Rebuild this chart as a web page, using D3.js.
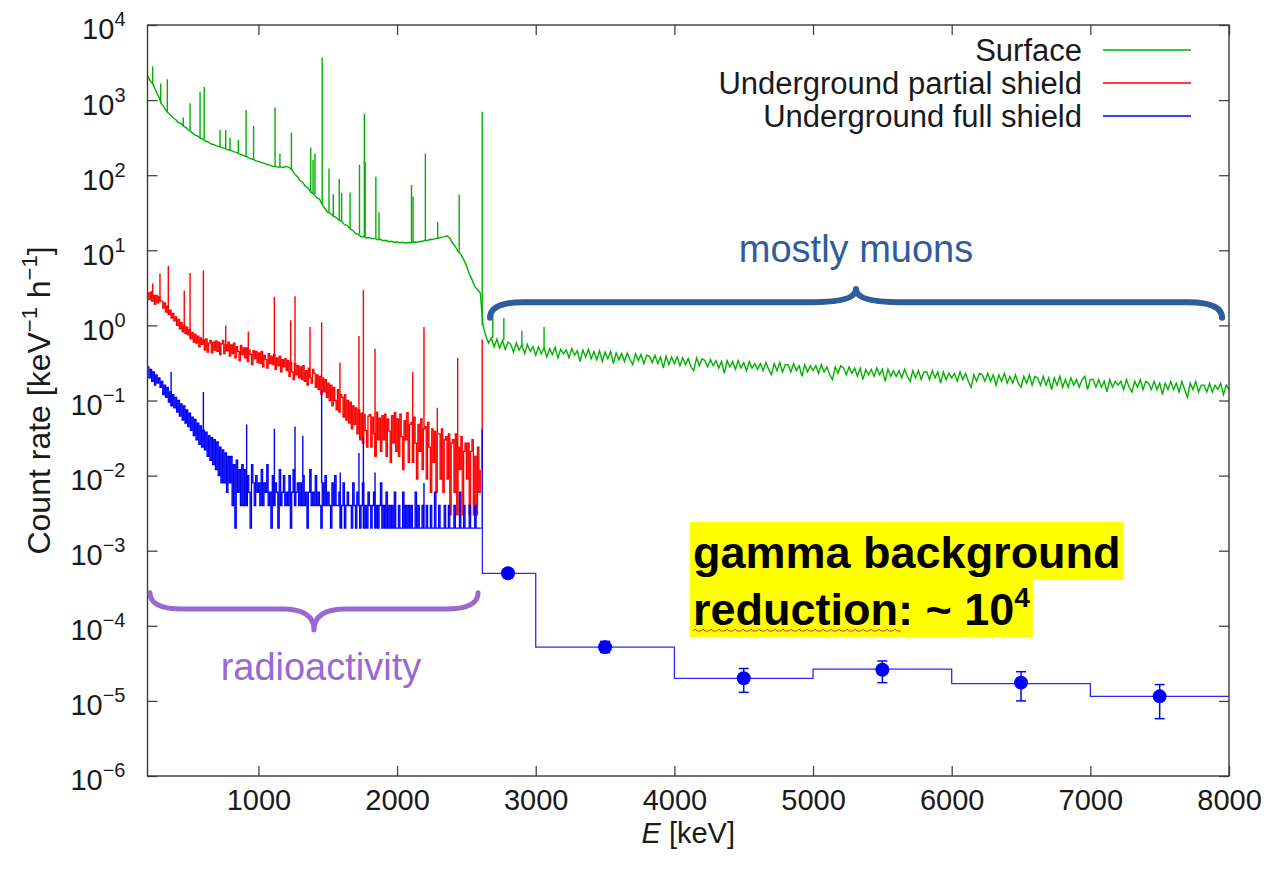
<!DOCTYPE html>
<html><head><meta charset="utf-8">
<script src="https://cdn.jsdelivr.net/npm/d3@7"></script>
<style>body{margin:0;background:#fff}</style>
</head><body><svg id="c" width="1272" height="875"></svg>
<script>
// ---------- data ----------
const xTicks=[1000,2000,3000,4000,5000,6000,7000,8000];
const yTicks=[1e4,1e3,1e2,1e1,1e0,1e-1,1e-2,1e-3,1e-4,1e-5,1e-6];
const yTickExp=["4","3","2","1","0","\u22121","\u22122","\u22123","\u22124","\u22125","\u22126"];
const seriesNames=["Surface","Underground partial shield","Underground full shield"];

// Surface spectrum, continuum below the 2614 keV line (200..2600 keV, 20 keV bins)
const greenLowStart=200, greenLowStep=20;
const greenLow=[
2100,1800,1620,1330,1120,900,800,700,650,590,
555,510,490,450,428,395,372,345,333,312,
302,283,275,260,255,244,241,231,228,218,
215,206,201,192,188,179,175,166,163,155,
153,147,145,139,137,131,131,128,129,127,
131,127,119,104,96,85,80,71,67,59,
56,50,48,41,36,32,31,28.5,27.5,25,
24.5,22,21.5,19.2,18.5,16.8,16.3,15.1,15.2,14.6,
14.8,14.2,14.4,13.8,14.0,13.4,13.6,13.0,13.2,12.8,
12.9,12.6,12.8,12.4,12.7,12.6,12.9,12.8,13.1,13.1,
13.5,13.5,14.0,13.9,14.4,14.4,15.0,15.1,15.6,14.6,
12.5,11.2,9.7,8.9,7.5,6.3,4.9,4.1,3.3,3.0,
2.7];
// Surface spectrum above 2614 keV (2620..8000 keV, 20 keV bins)
const greenHighStart=2620, greenHighStep=20;
const greenHigh=[
1.0,0.72,0.58,0.68,0.52,0.66,0.50,0.63,0.48,0.60,
0.56,0.44,0.58,0.47,0.55,0.42,0.56,0.45,0.52,0.40,
0.52,0.42,0.50,0.38,0.49,0.41,0.51,0.37,0.48,0.42,
0.47,0.37,0.49,0.40,0.46,0.33,0.47,0.38,0.48,0.36,
0.45,0.35,0.46,0.33,0.44,0.36,0.45,0.31,0.43,0.35,
0.42,0.33,0.43,0.35,0.30,0.42,0.34,0.41,0.31,0.40,
0.39,0.32,0.40,0.31,0.38,0.27,0.39,0.30,0.38,0.31,
0.38,0.29,0.37,0.30,0.36,0.28,0.25,0.37,0.29,0.36,
0.34,0.28,0.35,0.29,0.34,0.27,0.33,0.23,0.34,0.28,
0.33,0.26,0.34,0.27,0.32,0.25,0.33,0.27,0.31,0.26,
0.31,0.25,0.32,0.26,0.22,0.31,0.25,0.32,0.24,0.30,
0.30,0.24,0.31,0.25,0.29,0.21,0.30,0.24,0.29,0.25,
0.29,0.23,0.30,0.24,0.28,0.22,0.19,0.28,0.23,0.29,
0.27,0.22,0.28,0.23,0.27,0.21,0.27,0.19,0.26,0.22,
0.26,0.21,0.27,0.22,0.26,0.18,0.26,0.21,0.25,0.21,
0.25,0.20,0.26,0.21,0.18,0.25,0.20,0.25,0.19,0.24,
0.24,0.19,0.25,0.20,0.24,0.17,0.24,0.19,0.23,0.20,
0.23,0.18,0.24,0.19,0.23,0.18,0.15,0.22,0.18,0.23,
0.22,0.18,0.23,0.18,0.22,0.16,0.22,0.18,0.23,0.17,
0.21,0.17,0.22,0.17,0.15,0.21,0.17,0.22,0.16,0.21,
0.20,0.16,0.21,0.16,0.20,0.14,0.20,0.16,0.21,0.15,
0.19,0.15,0.20,0.16,0.19,0.15,0.19,0.21,0.14,0.19,
0.19,0.15,0.19,0.15,0.18,0.13,0.19,0.15,0.18,0.16,
0.18,0.14,0.19,0.15,0.13,0.18,0.15,0.19,0.14,0.18,
0.17,0.14,0.18,0.14,0.17,0.12,0.17,0.14,0.18,0.14,
0.17,0.13,0.18,0.14,0.11,0.17,0.14,0.18,0.13,0.16,
0.16,0.13,0.17,0.13,0.16,0.14,0.17,0.12,0.16,0.14];
const greenPeaks=[[237,2800],[295,1660],[343,1900],[458,590],[507,910],[579,1290],[609,1510],
[723,400],[764,400],[795,316],[855,295],[911,740],[965,457],[1120,800],[1155,195],[1238,370],
[1377,234],[1394,160],[1408,195],[1460,3700],[1509,123],[1540,56],[1583,89],[1600,58],[1661,59],
[1729,138],[1764,660],[1770,150],[1847,95],[1870,32],[2104,74],[2115,52],[2204,195],[2293,24],
[2448,55],[2614,700],[2690,1.4],[2770,1.25],[2900,0.85],[3060,0.95]];

// Underground, partial shield (200..2600 keV, 10 keV bins)
const redStart=200, redStep=10;
const red=[
2.7,2.2,2.8,2.1,2.5,1.9,2.5,2.0,2.4,2.1,
2.1,1.7,2.0,1.5,1.8,1.4,1.6,1.25,1.45,1.15,
1.3,1.0,1.2,0.9,1.1,0.82,1.0,0.78,0.95,0.75,
0.88,0.66,0.8,0.6,0.76,0.58,0.72,0.52,0.68,0.56,
0.64,0.47,0.66,0.44,0.58,0.63,0.43,0.6,0.47,0.62,
0.45,0.6,0.41,0.57,0.63,0.42,0.55,0.46,0.6,0.39,
0.55,0.42,0.58,0.37,0.52,0.45,0.34,0.54,0.41,0.5,
0.37,0.5,0.33,0.47,0.41,0.3,0.46,0.36,0.45,0.32,
0.43,0.31,0.45,0.28,0.4,0.35,0.27,0.42,0.31,0.39,
0.3,0.41,0.26,0.37,0.29,0.39,0.24,0.35,0.28,0.36,
0.25,0.34,0.21,0.32,0.24,0.19,0.31,0.22,0.29,0.2,
0.28,0.19,0.29,0.18,0.25,0.16,0.27,0.2,0.17,0.26,
0.23,0.15,0.22,0.14,0.21,0.12,0.2,0.13,0.19,0.11,
0.17,0.1,0.16,0.085,0.15,0.1,0.075,0.14,0.07,0.12,
0.11,0.06,0.12,0.055,0.1,0.05,0.095,0.042,0.085,0.048,
0.08,0.036,0.075,0.03,0.068,0.027,0.065,0.04,0.024,0.062,
0.065,0.024,0.06,0.036,0.018,0.07,0.03,0.058,0.021,0.063,
0.03,0.066,0.018,0.057,0.039,0.015,0.063,0.027,0.069,0.021,
0.057,0.018,0.066,0.033,0.012,0.054,0.03,0.069,0.015,0.048,
0.051,0.015,0.06,0.027,0.009,0.048,0.021,0.057,0.012,0.042,
0.045,0.009,0.051,0.024,0.006,0.042,0.015,0.039,0.006,0.036,
0.036,0.009,0.042,0.006,0.03,0.033,0.009,0.036,0.003,0.027,
0.03,0.006,0.036,0.003,0.024,0.012,0.033,0.003,0.021,0.027,
0.009,0.027,0.003,0.021,0.03,0.003,0.018,0.003,0.024,0.006,
0.012];
const redPeaks=[[237,3.6],[290,4.9],[350,6.2],[465,2.9],[507,5.0],[603,5.4],[764,1.0],[927,0.83],
[1115,2.4],[1233,1.17],[1264,2.45],[1372,0.95],[1456,1.1],[1588,0.32],[1725,0.72],[1757,2.95],
[1841,0.49],[2113,0.24],[2194,0.95],[2290,0.08],[2437,0.37],[2614,0.65]];

// Underground, full shield (200..2600 keV, 10 keV bins)
const blueStart=200, blueStep=10;
const blue=[
0.28,0.2,0.26,0.18,0.24,0.16,0.22,0.17,0.2,0.15,
0.18,0.12,0.16,0.11,0.15,0.095,0.13,0.085,0.12,0.08,
0.11,0.07,0.1,0.062,0.09,0.055,0.085,0.05,0.075,0.045,
0.068,0.04,0.06,0.034,0.056,0.03,0.05,0.026,0.046,0.024,
0.04,0.022,0.038,0.018,0.034,0.016,0.032,0.014,0.03,0.012,
0.028,0.01,0.024,0.008,0.022,0.008,0.02,0.006,0.018,0.008,
0.018,0.004,0.014,0.002,0.016,0.006,0.012,0.004,0.014,0.004,
0.012,0.004,0.01,0.006,0.002,0.014,0.008,0.004,0.01,0.006,
0.008,0.004,0.012,0.004,0.008,0.006,0.014,0.004,0.006,0.002,
0.01,0.004,0.008,0.006,0.002,0.012,0.004,0.006,0.01,0.004,
0.006,0.004,0.01,0.002,0.006,0.012,0.004,0.006,0.008,0.004,
0.008,0.004,0.01,0.004,0.006,0.002,0.006,0.012,0.004,0.006,
0.004,0.01,0.004,0.006,0.004,0.002,0.008,0.004,0.01,0.004,
0.006,0.004,0.002,0.008,0.004,0.01,0.004,0.004,0.006,0.002,
0.004,0.008,0.002,0.004,0.006,0.004,0.004,0.002,0.008,0.004,
0.002,0.006,0.004,0.002,0.004,0.008,0.002,0.004,0.002,0.006,
0.004,0.002,0.004,0.006,0.002,0.004,0.002,0.004,0.008,0.002,
0.004,0.002,0.006,0.002,0.004,0.002,0.004,0.002,0.006,0.002,
0.002,0.004,0.002,0.002,0.006,0.002,0.004,0.002,0.004,0.002,
0.004,0.002,0.002,0.006,0.002,0.004,0.002,0.002,0.004,0.002,
0.002,0.004,0.002,0.002,0.004,0.002,0.002,0.006,0.002,0.002,
0.004,0.002,0.002,0.002,0.004,0.002,0.002,0.004,0.002,0.002,
0.002,0.004,0.002,0.002,0.002,0.006,0.002,0.002,0.004,0.002,
0.002,0.002,0.004,0.002,0.002,0.002,0.004,0.002,0.002,0.002,
0.002];
const bluePeaks=[[370,0.24],[603,0.13],[915,0.048],[1115,0.042],[1264,0.045],[1320,0.034],[1456,0.14],
[1590,0.011],[1725,0.02],[1757,0.032],[1841,0.011],[2194,0.008],[2614,0.041]];

// full shield, high-energy histogram and measured points
const histEdges=[2615,3000,4000,5000,6000,7000,8000];
const histValues=[5e-4,5.2e-5,2e-5,2.65e-5,1.7e-5,1.15e-5];
const pointE=[2800,3500,4500,5500,6500,7500];
const pointV=[5e-4,5.2e-5,2e-5,2.6e-5,1.75e-5,1.15e-5];
const pointLo=[4.7e-4,4.4e-5,1.3e-5,1.75e-5,1.0e-5,5.8e-6];
const pointHi=[5.3e-4,6.2e-5,2.7e-5,3.4e-5,2.45e-5,1.65e-5];

// annotations (data coordinates)
const muonBrace={e0:2670,e1:7950,em:5310,vEnd:1.26,vH:2.04,vTip:3.05};
const radioBrace={e0:218,e1:2584,em:1401,vEnd:2.75e-4,vH:1.67e-4,vTip:8.8e-5};
const muonLabel={e:5310,v:7.0,text:"mostly muons"};
const radioLabel={e:1451,v:1.9e-5,text:"radioactivity"};

// ---------- drawing ----------
const FONT='"Liberation Sans", Arial, Helvetica, sans-serif';
const COLORS=["#00b000","#ff0000","#0000ff"];
const M={left:147.5,right:1229,top:25,bottom:776};
const x=d3.scaleLinear().domain([200,8000]).range([M.left,M.right]);
const y=d3.scaleLog().domain([1e-6,1e4]).range([M.bottom,M.top]);
const svg=d3.select("#c").attr("font-family",FONT);

svg.append("defs").append("clipPath").attr("id","clip").append("rect")
  .attr("x",M.left).attr("y",M.top).attr("width",M.right-M.left).attr("height",M.bottom-M.top);

function grid(start,step,arr){return arr.map((v,i)=>({E:start+i*step,v}));}
const greenPts=grid(greenLowStart,greenLowStep,greenLow).concat(grid(greenHighStart,greenHighStep,greenHigh));
const redPts=grid(redStart,redStep,red);
const bluePts=grid(blueStart,blueStep,blue);

const plot=svg.append("g").attr("clip-path","url(#clip)");
const lineLin=d3.line().x(d=>x(d.E)).y(d=>y(d.v));
const lineStep=d3.line().x(d=>x(d.E)).y(d=>y(d.v)).curve(d3.curveStepAfter);

function nearest(pts,E){
  let best=pts[0];
  for(const p of pts){ if(Math.abs(p.E-E)<Math.abs(best.E-E)) best=p; }
  return best;
}
function drawSeries(pts,peaks,color,gen,sw){
  const g=plot.append("g");
  g.append("path").datum(pts).attr("d",gen).attr("fill","none").attr("stroke",color).attr("stroke-width",sw);
  g.selectAll("line.pk").data(peaks).join("line").attr("class","pk")
    .attr("x1",d=>x(d[0])).attr("x2",d=>x(d[0]))
    .attr("y1",d=>y(nearest(pts,d[0]).v)).attr("y2",d=>y(d[1]))
    .attr("stroke",color).attr("stroke-width",1.4);
  return g;
}
drawSeries(greenPts,greenPeaks,COLORS[0],lineLin,1.4);
drawSeries(redPts,redPeaks,COLORS[1],lineStep,1.3);
drawSeries(bluePts,bluePeaks,COLORS[2],lineStep,1.3);

// high-energy histogram
const histPts=[{E:bluePts[bluePts.length-1].E,v:bluePts[bluePts.length-1].v}]
  .concat(histValues.map((v,i)=>({E:histEdges[i],v})))
  .concat([{E:histEdges[histEdges.length-1],v:histValues[histValues.length-1]}]);
plot.append("path").datum(histPts).attr("d",lineStep).attr("fill","none")
  .attr("stroke","#2a2aff").attr("stroke-width",1.3);

// data points with error bars
const pts=pointE.map((e,i)=>({E:e,v:pointV[i],lo:pointLo[i],hi:pointHi[i]}));
const eg=plot.append("g");
eg.selectAll("line.eb").data(pts).join("line").attr("class","eb")
  .attr("x1",d=>x(d.E)).attr("x2",d=>x(d.E)).attr("y1",d=>y(d.lo)).attr("y2",d=>y(d.hi))
  .attr("stroke","#0000ff").attr("stroke-width",1.5);
["lo","hi"].forEach(k=>{
  eg.selectAll("line.cap"+k).data(pts).join("line").attr("class","cap"+k)
    .attr("x1",d=>x(d.E)-5).attr("x2",d=>x(d.E)+5).attr("y1",d=>y(d[k])).attr("y2",d=>y(d[k]))
    .attr("stroke","#0000ff").attr("stroke-width",1.5);
});
eg.selectAll("circle").data(pts).join("circle").attr("cx",d=>x(d.E)).attr("cy",d=>y(d.v))
  .attr("r",7).attr("fill","#0000ff");

// axes
const AX="#444";
const gB=svg.append("g").attr("transform",`translate(0,${M.bottom})`)
  .call(d3.axisBottom(x).tickValues(xTicks).tickSizeInner(-10).tickSizeOuter(0).tickPadding(13).tickFormat(d3.format("d")));
const gT=svg.append("g").attr("transform",`translate(0,${M.top})`)
  .call(d3.axisTop(x).tickValues(xTicks).tickSizeInner(-10).tickSizeOuter(0).tickFormat(""));
const gL=svg.append("g").attr("transform",`translate(${M.left},0)`)
  .call(d3.axisLeft(y).tickValues(yTicks).tickSizeInner(-10).tickSizeOuter(0).tickPadding(22).tickFormat(""));
const gR=svg.append("g").attr("transform",`translate(${M.right},0)`)
  .call(d3.axisRight(y).tickValues(yTicks).tickSizeInner(-10).tickSizeOuter(0).tickFormat(""));
[gB,gT,gL,gR].forEach(g=>{
  g.select(".domain").remove();
  g.selectAll(".tick line").attr("stroke",AX).attr("stroke-width",1.3);
  g.selectAll("text").attr("font-family",FONT).attr("fill","#1a1a1a");
});
gB.selectAll("text").attr("font-size",29);
gL.selectAll(".tick text").each(function(d,i){
  const t=d3.select(this).text(null).attr("font-size",29).attr("dy","0.48em");
  t.append("tspan").text("10");
  t.append("tspan").attr("dy",-13).attr("font-size",20).text(yTickExp[i]);
});
svg.append("rect").attr("x",M.left).attr("y",M.top).attr("width",M.right-M.left).attr("height",M.bottom-M.top)
  .attr("fill","none").attr("stroke","#3a3a3a").attr("stroke-width",1.4);

// axis titles
const xl=svg.append("text").attr("x",(M.left+M.right)/2).attr("y",843).attr("text-anchor","middle")
  .attr("font-size",29).attr("fill","#1a1a1a");
xl.append("tspan").attr("font-style","italic").text("E");
xl.append("tspan").text(" [keV]");
const yl=svg.append("text").attr("transform",`translate(50,${(M.top+M.bottom)/2}) rotate(-90)`)
  .attr("text-anchor","middle").attr("font-size",32).attr("fill","#1a1a1a");
yl.append("tspan").text("Count rate [keV");
yl.append("tspan").attr("dy",-13).attr("font-size",22).text("\u22121");
yl.append("tspan").attr("dy",13).text(" h");
yl.append("tspan").attr("dy",-13).attr("font-size",22).text("\u22121");
yl.append("tspan").attr("dy",13).text("]");

// legend
seriesNames.forEach((n,i)=>{
  const yy=50+i*33;
  svg.append("text").attr("x",1082).attr("y",yy+11).attr("text-anchor","end").attr("font-size",31)
    .attr("fill","#1a1a1a").text(n);
  svg.append("line").attr("x1",1103).attr("x2",1191).attr("y1",yy).attr("y2",yy)
    .attr("stroke",COLORS[i]).attr("stroke-width",1.3);
});

// braces
function bracePath(b,rE,rM){
  const x0=x(b.e0),x1=x(b.e1),xm=x(b.em),yE=y(b.vEnd),yH=y(b.vH),yT=y(b.vTip);
  return `M${x0},${yE} Q${x0},${yH} ${x0+rE},${yH} L${xm-rM},${yH} Q${xm},${yH} ${xm},${yT} `+
         `Q${xm},${yH} ${xm+rM},${yH} L${x1-rE},${yH} Q${x1},${yH} ${x1},${yE}`;
}
const MUON="#2f5d9b", RADIO="#9a68d0";
svg.append("path").attr("d",bracePath(muonBrace,34,42)).attr("fill","none").attr("stroke",MUON)
  .attr("stroke-width",6).attr("stroke-linecap","round").attr("stroke-linejoin","round");
svg.append("path").attr("d",bracePath(radioBrace,32,32)).attr("fill","none").attr("stroke",RADIO)
  .attr("stroke-width",5).attr("stroke-linecap","round").attr("stroke-linejoin","round");
svg.append("text").attr("x",x(muonLabel.e)).attr("y",y(muonLabel.v)).attr("text-anchor","middle")
  .attr("font-size",38).attr("fill",MUON).text(muonLabel.text);
svg.append("text").attr("x",x(radioLabel.e)).attr("y",y(radioLabel.v)).attr("text-anchor","middle")
  .attr("font-size",38).attr("fill",RADIO).text(radioLabel.text);

// highlighted statement
const hl=svg.append("g");
const bx=693, b1=568, b2=625;
const r1=hl.append("rect").attr("fill","#ffff00");
const r2=hl.append("rect").attr("fill","#ffff00");
const t1=hl.append("text").attr("x",bx).attr("y",b1).attr("font-size",45).attr("font-weight","bold")
  .attr("fill","#000").text("gamma background");
const t2=hl.append("text").attr("x",bx).attr("y",b2).attr("font-size",45).attr("font-weight","bold").attr("fill","#000");
const tRed=t2.append("tspan").text("reduction");
t2.append("tspan").text(": ~ 10");
t2.append("tspan").attr("dy",-18).attr("font-size",28).text("4");
const w1=t1.node().getComputedTextLength(), w2=t2.node().getComputedTextLength();
r1.attr("x",bx-3).attr("y",b1-46).attr("width",w1+6).attr("height",58);
r2.attr("x",bx-3).attr("y",b1+12).attr("width",w2+6).attr("height",57);
const wr=tRed.node().getComputedTextLength();
let zz=`M${bx},${b2+6}`;
for(let k=0;k*4<wr;k++){ zz+=` L${bx+k*4+2},${b2+(k%2?6:4)} L${bx+k*4+4},${b2+6}`; }
hl.append("path").attr("d",zz).attr("fill","none").attr("stroke","#e03a2a").attr("stroke-width",1);
</script></body></html>
